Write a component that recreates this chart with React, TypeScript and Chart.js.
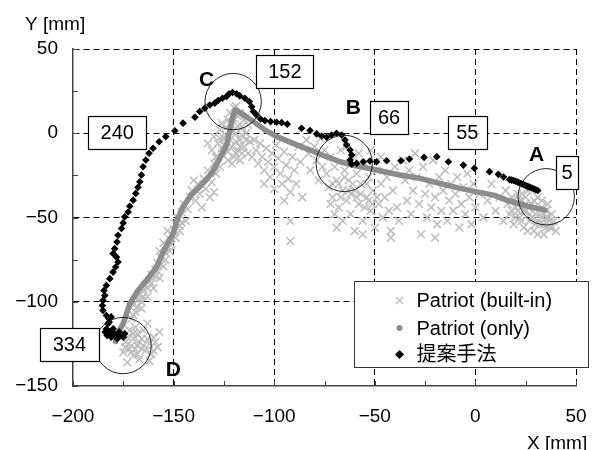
import { useEffect, useRef } from 'react';
import { Chart, registerables } from 'chart.js';

Chart.register(...registerables);

// ---------- data ----------
const seriesNames = ['Patriot (built-in)', 'Patriot (only)', '提案手法'];

const xTickRange = [-200, 50];
const yTickRange = [-150, 50];

// Patriot (built-in): scattered × markers
const builtinPts: number[][] = [
  // around D
  [-176,-119],[-174,-124],[-172,-128],[-170,-132],[-168,-126],[-166,-122],[-164,-129],[-162,-125],[-160,-121],[-158,-127],
  [-170,-122],[-167,-134],[-173,-136],[-165,-117],[-161,-131],[-157,-118],[-169,-115],[-163,-113],[-171,-126],[-175,-130],
  [-159,-124],[-166,-128],[-168,-119],[-172,-117],[-162,-135],
  [-174,-127],[-171,-130],[-169,-128],[-167,-124],[-165,-126],[-163,-122],[-170,-119],[-168,-131],[-173,-121],[-160,-129],
  // D -> C lower strip
  [-171,-110],[-169,-106],[-170,-102],[-168,-99],[-166,-104],[-167,-96],[-165,-93],[-163,-97],[-164,-90],[-162,-88],
  [-160,-92],[-161,-84],[-159,-81],[-157,-86],[-158,-77],[-156,-74],[-155,-79],[-154,-71],[-153,-67],[-155,-65],
  [-152,-63],[-151,-60],[-150,-57],[-149,-54],[-148,-50],[-147,-55],[-153,-58],[-157,-70],
  [-170,-108],[-168,-103],[-166,-100],[-165,-97],[-163,-92],[-161,-89],[-159,-85],[-158,-82],[-156,-78],[-154,-75],
  [-152,-70],[-151,-66],[-149,-62],[-147,-58],[-146,-53],
  // D -> C middle strip
  [-146,-47],[-145,-42],[-143,-45],[-142,-38],[-141,-34],[-139,-40],[-138,-30],[-137,-36],[-135,-27],[-134,-33],
  [-133,-22],[-131,-29],[-132,-38],[-130,-18],[-129,-24],[-128,-14],[-127,-20],[-126,-9],[-136,-44],[-140,-28],
  [-130,-35],[-144,-52],
  // around C
  [-125,-3],[-124,3],[-123,8],[-122,12],[-120,15],[-118,10],[-121,5],[-119,0],[-117,-4],[-116,4],
  [-115,-8],[-114,0],[-113,-12],[-112,-5],[-118,-10],[-120,-14],[-123,-16],[-126,-12],[-128,-6],[-130,-2],
  [-131,-10],[-127,2],[-124,-8],[-122,-4],[-121,-18],[-117,-16],[-115,8],[-119,16],[-126,6],[-129,-14],
  [-133,-6],[-116,-12],[-111,-14],[-113,5],[-117,12],
  [-124,-1],[-122,6],[-121,-8],[-119,-5],[-118,4],[-116,-1],[-114,-4],[-120,9],[-125,-7],[-123,-11],
  [-119,-12],[-127,-3],[-117,-8],[-121,1],
  // right of C
  [-110,-4],[-109,-10],[-108,-18],[-107,-6],[-106,-14],[-105,-22],[-104,-9],[-103,-17],[-102,-26],[-101,-12],
  [-100,-20],[-99,-7],[-98,-15],[-97,-24],[-96,-30],[-95,-11],[-94,-19],[-93,-27],[-92,-35],[-91,-14],
  [-90,-22],[-89,-30],[-88,-8],[-87,-17],[-86,-38],[-105,-30],[-100,-33],[-95,-40],[-92,-52],[-92,-64],
  [-84,-4],[-83,-12],[-82,-22],[-80,-8],[-79,-16],[-78,-28],[-77,-3],[-76,-20],
  // around B
  [-75,-10],[-74,-24],[-73,-32],[-72,-14],[-71,-38],[-70,-20],[-69,-28],[-68,-44],[-67,-10],[-66,-34],
  [-65,-22],[-64,-40],[-63,-28],[-62,-48],[-61,-14],[-60,-34],[-59,-24],[-58,-42],[-57,-30],[-56,-52],
  [-55,-18],[-54,-38],[-53,-26],[-52,-46],[-51,-34],[-50,-56],[-49,-22],[-48,-42],[-47,-30],[-46,-50],
  [-45,-38],[-44,-26],[-43,-46],[-42,-58],[-41,-34],[-40,-20],[-39,-44],[-38,-52],[-70,-48],[-66,-52],
  [-60,-58],[-56,-60],[-69,-56],[-64,-8],[-58,-12],[-52,-10],[-47,-14],[-72,-42],[-62,-36],[-54,-30],
  [-68,-30],[-65,-26],[-63,-34],[-61,-30],[-59,-38],[-57,-36],[-55,-44],[-53,-40],[-51,-42],[-49,-38],
  [-67,-38],[-71,-30],
  // B -> A
  [-36,-16],[-35,-28],[-34,-40],[-33,-22],[-32,-48],[-31,-34],[-30,-12],[-29,-26],[-28,-42],[-27,-60],
  [-26,-20],[-25,-36],[-24,-50],[-23,-30],[-22,-44],[-21,-16],[-20,-38],[-19,-54],[-18,-26],[-17,-46],
  [-16,-34],[-15,-22],[-14,-52],[-13,-40],[-12,-30],[-11,-46],[-10,-36],[-9,-26],[-8,-56],[-7,-42],
  [-6,-32],[-5,-48],[-4,-24],[-3,-38],[-2,-54],[-1,-30],[0,-44],[2,-36],[4,-50],[6,-40],
  [8,-30],[10,-46],[12,-38],[14,-52],[-42,-62],[-20,-62],
  // around A
  [15,-34],[16,-42],[17,-48],[18,-38],[19,-54],[20,-44],[21,-36],[22,-50],[23,-40],[24,-56],
  [25,-46],[26,-34],[27,-52],[28,-42],[29,-58],[30,-48],[31,-38],[32,-54],[33,-44],[34,-60],
  [35,-50],[36,-42],[37,-56],[38,-48],[39,-52],[40,-58],[20,-50],[24,-46],[28,-50],[32,-48],
  [26,-58],[30,-54],[22,-40],[34,-54],[18,-46],[36,-50],[27,-44],[31,-60],[38,-56],[25,-38],
  [19,-40],[21,-46],[23,-52],[25,-42],[27,-48],[29,-44],[31,-52],[33,-50],[35,-46],[37,-52],
  [23,-36],[29,-40],[33,-40],[35,-56],[21,-42],
];

// Patriot (only): thick gray trajectory
const onlyPts: number[][] = [
  [34.6,-45.6],[27.2,-43.7],[21.4,-41.7],[15.6,-39.7],[9,-36.7],[0.7,-34.8],[-7.6,-32.7],[-17.6,-29.8],
  [-27.5,-26.8],[-37.5,-24.8],[-49.1,-21.8],[-59,-19.5],[-67.3,-16.9],[-74,-13.9],[-82.2,-9.9],[-90.6,-6],
  [-98.8,-2],[-104.6,2],[-110.4,6.9],[-116.2,11.9],[-119.4,13.8],[-120.8,9],[-122,2],[-123.7,-7],
  [-127,-15],[-131,-23.5],[-134.5,-28.5],[-137,-31.8],[-141.5,-37],[-145,-43],[-148.3,-51.6],[-150.2,-59.5],
  [-155.2,-70.5],[-158.5,-79.4],[-163.5,-87.3],[-167.7,-93.3],[-171.8,-101.2],[-173.4,-107.1],[-175.1,-113.1],
  [-177.1,-117.1],[-178.8,-123.5],
];

// 提案手法: black diamonds
const proposedPts: number[][] = [
  [31,-34],[30,-33.5],[29,-33],[28,-32.5],[27,-32],[26,-31.5],[25,-31],[24,-30.5],[23,-30],[22,-29.5],
  [21,-29],[20,-28.5],[19,-28],[18,-27.8],[17,-27.5],[14,-26],[11.4,-24.4],[7,-22.8],[-0.5,-20.8],[-6,-18.9],
  [-13.4,-16.9],[-19.2,-13.9],[-25.5,-14.3],[-32.8,-15.3],[-37,-16.3],[-44.1,-16.3],[-49.1,-16.9],[-52.4,-16.5],
  [-55.7,-16.9],[-59,-17.9],[-61.5,-18.3],[-62.3,-15.9],[-61.5,-12.9],[-62.3,-9.9],[-64,-7],[-64.8,-4],
  [-66.5,-1],[-69,0],[-71.5,-1],[-74,-2.4],[-76.4,-1.6],[-78.9,-0.4],[-82.2,1.6],[-86.4,3],[-93.5,5.4],
  [-96.3,6.3],[-98.8,6.5],[-101.8,6.9],[-104.6,7.5],[-106.8,8.5],[-108.8,10.9],[-110.4,12.9],[-111.2,15.8],
  [-112.4,18.8],[-114.6,20.8],[-117.1,22.2],[-118.7,23.4],[-120.7,24.2],[-122.4,23.4],[-123.7,21.8],
  [-125.7,20.8],[-127.9,19.4],[-129.5,17.9],[-132,16.8],[-134.5,14.9],[-137,12.9],[-139.4,9.5],[-145.3,6],
  [-149.4,1.5],[-153.9,-2],[-157.2,-5],[-160.2,-8.9],[-162.2,-11.9],[-163.8,-15.9],[-165.2,-19.9],[-166,-24.8],
  [-166.8,-28.8],[-167.7,-32.1],[-168.8,-35.7],[-170.1,-39.7],[-171.8,-43.3],[-172.6,-46.7],[-174.3,-49.6],
  [-175.1,-53.2],[-175.9,-56.5],[-177.6,-60.5],[-178.1,-64.5],[-179.3,-68.5],[-180.1,-71.4],[-178.4,-73.5],
  [-177.6,-76.4],[-178.8,-79.4],[-180.1,-82.4],[-181.7,-86.3],[-183.4,-90.3],[-184.6,-93.3],[-184.2,-96.3],
  [-185.1,-99.2],[-185.4,-102.2],[-185.1,-105.2],[-183.4,-108.2],[-182.1,-110.1],[-182.6,-113.1],[-183.4,-116.1],
  [-181.7,-118.1],[-179.3,-119],[-176.8,-120.1],[-174.3,-119],[-184,-118],[-183,-120],[-181,-121],[-178,-122],
  [-180,-116],[-177,-118],[-175,-121],[-182,-112],[-181,-109],
];

// annotation circles and letters (data coordinates)
const circleLabels = ['A', 'B', 'C', 'D'];
const circleX = [35.2, -65.2, -120.4, -175.1];
const circleY = [-37.7, -17.9, 18.8, -126];
const letterX = [30.4, -60.7, -133.6, -150.1];
const letterY = [-12.7, 15.4, 32.0, -140.1];

// boxed frame numbers (box centres, data coordinates)
const frameLabels = ['5', '66', '55', '152', '240', '334'];
const frameX = [45.5, -42.9, -4.0, -94.7, -178.0, -201.8];
const frameY = [-23.0, 9.5, 0.4, 36.7, 0.6, -125.4];

// ---------- layout / style constants ----------
const FONT = '"Liberation Sans", "Noto Sans CJK JP", sans-serif';
const frameBoxW = [22, 38, 39, 57, 58, 59];
const frameBoxH = 33;
const circleRadiusMM = 14;

const toXY = (pts: number[][]) => pts.map(([x, y]) => ({ x, y }));
const fmt = (v: number) => String(v).replace('-', '\u2212');

const overlayPlugin = {
  id: 'overlay',
  afterDatasetsDraw(chart: any) {
    const { ctx, chartArea: ca } = chart;
    const xs = chart.scales.x;
    const ys = chart.scales.y;
    ctx.save();
    // inward tick marks
    ctx.strokeStyle = '#444';
    ctx.lineWidth = 1;
    ys.ticks.forEach((t: any) => {
      const py = Math.round(ys.getPixelForValue(t.value)) + 0.5;
      ctx.beginPath();
      ctx.moveTo(ca.left, py);
      ctx.lineTo(ca.left + 5, py);
      ctx.stroke();
    });
    xs.ticks.forEach((t: any) => {
      const px = Math.round(xs.getPixelForValue(t.value)) + 0.5;
      ctx.beginPath();
      ctx.moveTo(px, ca.bottom);
      ctx.lineTo(px, ca.bottom - 5);
      ctx.stroke();
    });

    // circles
    ctx.strokeStyle = '#222';
    ctx.lineWidth = 1;
    circleLabels.forEach((_, i) => {
      const cx = xs.getPixelForValue(circleX[i]);
      const cy = ys.getPixelForValue(circleY[i]);
      const r = xs.getPixelForValue(circleX[i] + circleRadiusMM) - cx;
      ctx.beginPath();
      ctx.arc(cx, cy, r, 0, Math.PI * 2);
      ctx.stroke();
    });
    // letters
    ctx.fillStyle = '#000';
    ctx.font = 'bold 21px ' + FONT;
    ctx.textAlign = 'center';
    ctx.textBaseline = 'middle';
    circleLabels.forEach((lab, i) => {
      ctx.fillText(lab, xs.getPixelForValue(letterX[i]), ys.getPixelForValue(letterY[i]) + 1);
    });
    // boxed numbers
    ctx.font = '20px ' + FONT;
    frameLabels.forEach((lab, i) => {
      const cx = xs.getPixelForValue(frameX[i]);
      const cy = ys.getPixelForValue(frameY[i]);
      const w = frameBoxW[i];
      const x0 = Math.round(cx - w / 2) + 0.5;
      const y0 = Math.round(cy - frameBoxH / 2) + 0.5;
      ctx.fillStyle = '#fff';
      ctx.fillRect(x0, y0, w, frameBoxH);
      ctx.strokeStyle = '#000';
      ctx.lineWidth = 1.2;
      ctx.strokeRect(x0, y0, w, frameBoxH);
      ctx.fillStyle = '#000';
      ctx.fillText(lab, cx, cy + 1);
    });
    ctx.restore();
  },
  afterDraw(chart: any) {
    const { ctx, chartArea: ca } = chart;
    ctx.save();
    // axis titles
    ctx.fillStyle = '#000';
    ctx.font = '19px ' + FONT;
    ctx.textAlign = 'left';
    ctx.textBaseline = 'middle';
    ctx.fillText('Y [mm]', ca.left - 48, ca.top - 24);
    ctx.fillText('X [mm]', ca.right - 49, ca.bottom + 58);

    // legend
    const lx = ca.left + 281.5;
    const ly = ca.top + 232.5;
    const lw = 234;
    const lh = 86;
    ctx.fillStyle = '#fff';
    ctx.fillRect(lx, ly, lw, lh);
    ctx.strokeStyle = '#333';
    ctx.lineWidth = 1;
    ctx.strokeRect(lx, ly, lw, lh);
    const rowY = [ly + 19, ly + 46.5, ly + 73];
    const mx = lx + 45;
    ctx.font = '20px ' + FONT;
    seriesNames.forEach((name, i) => {
      const y = rowY[i];
      if (i === 0) {
        ctx.strokeStyle = '#bdbdbd';
        ctx.lineWidth = 1.3;
        ctx.beginPath();
        ctx.moveTo(mx - 3.5, y - 3.5); ctx.lineTo(mx + 3.5, y + 3.5);
        ctx.moveTo(mx + 3.5, y - 3.5); ctx.lineTo(mx - 3.5, y + 3.5);
        ctx.stroke();
      } else if (i === 1) {
        ctx.fillStyle = '#8c8c8c';
        ctx.beginPath();
        ctx.arc(mx, y, 3, 0, Math.PI * 2);
        ctx.fill();
      } else {
        ctx.fillStyle = '#000';
        ctx.beginPath();
        ctx.moveTo(mx, y - 4.5); ctx.lineTo(mx + 4.5, y); ctx.lineTo(mx, y + 4.5); ctx.lineTo(mx - 4.5, y);
        ctx.closePath();
        ctx.fill();
      }
      ctx.fillStyle = '#000';
      ctx.fillText(name, lx + 62, y + 1);
    });
    ctx.restore();
  },
};

export default function App() {
  const ref = useRef<HTMLCanvasElement | null>(null);

  useEffect(() => {
    if (!ref.current) return;
    Chart.defaults.font.family = FONT;
    const gridColor = (min: number) => (c: any) =>
      c.tick && c.tick.value % 50 === 0 && c.tick.value !== min ? '#000' : 'rgba(0,0,0,0)';

    const chart = new Chart(ref.current, {
      type: 'scatter',
      data: {
        datasets: [
          {
            label: seriesNames[0],
            data: toXY(builtinPts),
            pointStyle: 'crossRot',
            pointRadius: 5.5,
            borderColor: '#bdbdbd',
            backgroundColor: '#bdbdbd',
            pointBorderWidth: 1.5,
            showLine: false,
            order: 3,
          },
          {
            label: seriesNames[1],
            data: toXY(onlyPts),
            showLine: true,
            borderColor: '#8c8c8c',
            backgroundColor: '#8c8c8c',
            borderWidth: 5.5,
            borderCapStyle: 'round',
            borderJoinStyle: 'round',
            pointRadius: 0,
            tension: 0,
            order: 2,
          },
          {
            label: seriesNames[2],
            data: toXY(proposedPts),
            pointStyle: 'rectRot',
            pointRadius: 3.8,
            borderColor: '#000',
            backgroundColor: '#000',
            pointBorderWidth: 0,
            showLine: false,
            order: 1,
          },
        ] as any,
      },
      options: {
        animation: false,
        responsive: false,
        devicePixelRatio: 1,
        layout: { padding: { top: 49, right: 40, left: 0, bottom: 0 } },
        plugins: { legend: { display: false }, tooltip: { enabled: false } },
        scales: {
          x: {
            type: 'linear',
            min: xTickRange[0],
            max: xTickRange[1],
            afterFit: (s: any) => { s.height = 64; },
            ticks: {
              stepSize: 25,
              autoSkip: false,
              maxRotation: 0,
              padding: 19,
              color: '#000',
              font: { size: 19, family: FONT },
              callback: (v: any) => (Number(v) % 50 === 0 ? fmt(Number(v)) : ''),
            },
            grid: { color: gridColor(xTickRange[0]), lineWidth: 1, drawTicks: false },
            border: { display: true, color: '#444', width: 1.5, dash: [6, 4] },
          },
          y: {
            type: 'linear',
            min: yTickRange[0],
            max: yTickRange[1],
            afterFit: (s: any) => { s.width = 73; },
            ticks: {
              stepSize: 25,
              autoSkip: false,
              padding: 15,
              color: '#000',
              font: { size: 19, family: FONT },
              callback: (v: any) => (Number(v) % 50 === 0 ? fmt(Number(v)) : ''),
            },
            grid: { color: gridColor(yTickRange[0]), lineWidth: 1, drawTicks: false },
            border: { display: true, color: '#444', width: 1.5, dash: [6, 4] },
          },
        },
      } as any,
      plugins: [overlayPlugin],
    });
    return () => chart.destroy();
  }, []);

  return (
    <div style={{ position: 'absolute', left: 0, top: 0, width: 616, height: 450, background: '#fff' }}>
      <canvas ref={ref} width={616} height={450} style={{ display: 'block' }} />
    </div>
  );
}
